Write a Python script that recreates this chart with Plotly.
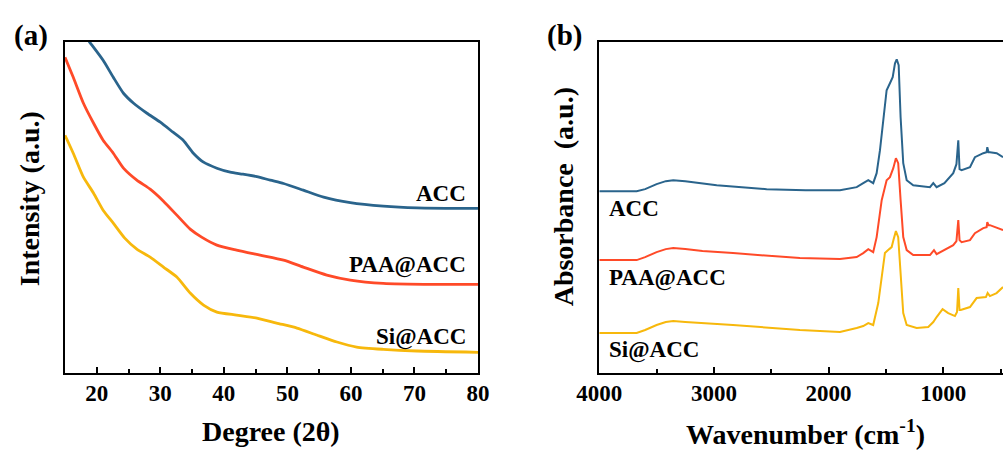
import plotly.graph_objects as go

# ---------------- XRD data (panel a) ----------------
xrd_acc_2theta = [15, 17, 18.9, 21.0, 22.6, 24.2, 25.8, 27.9, 30.0, 32.0, 33.6, 35.2, 36.8, 38.9, 41.0,
                  43.0, 45.2, 47.3, 49.4, 52.5, 55.7, 59.9, 65.1, 70.4, 80]
xrd_acc_int = [365, 347, 331, 313, 296, 280, 270, 260, 251, 241, 233, 220, 211, 205, 201,
               199, 196.5, 193, 189.7, 183, 176, 170.5, 167, 165.3, 164.7]

xrd_paa_2theta = [15, 16.3, 17.9, 19.5, 21.0, 22.6, 24.2, 26.3, 28.4, 30.5, 32.6, 34.7, 36.5, 38.9,
                  42.0, 45.7, 49.4, 52.5, 56.2, 59.9, 65.1, 73.0, 80]
xrd_paa_int = [316, 296, 270, 250, 233, 220, 205, 193, 184, 172, 158, 144, 136, 128,
               123, 118, 113, 106, 98, 93, 89.7, 88.7, 88.7]

xrd_si_2theta = [15, 16.3, 17.9, 19.5, 21.0, 22.6, 24.4, 26.3, 28.4, 30.5, 32.6, 34.7, 36.8, 38.9,
                 42.0, 45.2, 48.3, 51.5, 54.6, 57.8, 60.9, 65.1, 70.4, 80]
xrd_si_int = [238, 220, 196, 180, 163, 150, 135, 124, 116, 106, 96, 80, 68, 61,
              58, 55, 50, 45, 38, 31, 26, 23.7, 22, 20.7]

# ---------------- FTIR data (panel b) ----------------
ftir_acc_wn = [4000, 3800, 3674, 3600, 3500, 3420, 3355, 3250, 3100, 2976, 2540, 2200, 1901, 1755, 1698,
               1654, 1611, 1581, 1552, 1523, 1494, 1465, 1441, 1421, 1406, 1389, 1372, 1349, 1319, 1262,
               1116, 1087, 1058, 990, 913, 885, 869, 858, 840, 767, 724, 651, 622, 616, 605, 593, 534, 479]
ftir_acc_abs = [182, 182, 182, 184, 189, 192, 193, 192, 190, 188, 184, 183, 183, 186, 190,
                193, 190, 200, 223, 256, 283, 290, 296, 310, 314, 308, 256, 210, 193, 188,
                186, 190, 186, 190, 200, 209, 233, 204, 203, 206, 216, 220, 221, 226, 221, 221, 220, 216]

ftir_paa_wn = [4000, 3800, 3674, 3600, 3500, 3420, 3355, 3250, 3100, 2834, 2250, 1901, 1755, 1698,
               1654, 1611, 1581, 1537, 1494, 1465, 1436, 1413, 1393, 1372, 1349, 1319, 1262,
               1116, 1081, 1058, 913, 885, 869, 858, 840, 767, 724, 651, 622, 616, 605, 593, 534, 479]
ftir_paa_abs = [113, 113, 113, 116, 121, 124, 125, 124, 122, 120, 115, 114, 116, 120,
                124, 121, 136, 173, 193, 196, 205, 215, 210, 173, 136, 123, 118,
                118, 123, 119, 128, 132, 153, 133, 131, 133, 140, 145, 146, 151, 148, 148, 145, 143]

ftir_si_wn = [4000, 3800, 3674, 3600, 3500, 3420, 3355, 3250, 3100, 2834, 2250, 1901, 1755, 1698,
              1654, 1611, 1567, 1537, 1509, 1471, 1450, 1430, 1413, 1393, 1372, 1349, 1319, 1232,
              1131, 1087, 1058, 1006, 957, 898, 880, 869, 858, 848, 767, 709, 628, 613, 593, 535, 479]
ftir_si_abs = [40, 40, 40, 43, 48, 51, 52, 51, 50, 48, 43, 41, 45, 47,
               50, 48, 70, 96, 120, 124, 126, 135, 142, 136, 96, 60, 48, 45,
               46, 51, 56, 64, 60, 57, 61, 85, 63, 63, 66, 75, 76, 80, 77, 80, 86]

series_names = ["ACC", "PAA@ACC", "Si@ACC"]
colors = ["#2a648c", "#ff4a28", "#f7b80c"]

FONT = "Liberation Serif, Times New Roman, serif"

fig = go.Figure()
for xs, ys, name, c in zip([xrd_acc_2theta, xrd_paa_2theta, xrd_si_2theta],
                           [xrd_acc_int, xrd_paa_int, xrd_si_int], series_names, colors):
    fig.add_trace(go.Scatter(x=xs, y=ys, mode="lines", name=name,
                             line=dict(color=c, width=2.8, shape="spline", smoothing=0.6),
                             xaxis="x", yaxis="y"))
for xs, ys, name, c in zip([ftir_acc_wn, ftir_paa_wn, ftir_si_wn],
                           [ftir_acc_abs, ftir_paa_abs, ftir_si_abs], series_names, colors):
    fig.add_trace(go.Scatter(x=xs, y=ys, mode="lines", name=name,
                             line=dict(color=c, width=2), xaxis="x2", yaxis="y2"))

axis_common = dict(showline=True, linecolor="black", linewidth=2, showgrid=False, zeroline=False,
                   ticks="inside", ticklen=6, tickwidth=2, tickcolor="black", automargin=False,
                   tickfont=dict(family=FONT, size=23, color="black", weight="bold"))
yaxis_common = dict(showline=True, linecolor="black", linewidth=2, showticklabels=False, ticks="",
                    showgrid=False, zeroline=False, automargin=False)

fig.update_layout(
    template="none",
    width=1003, height=453, autosize=False,
    margin=dict(l=65, r=0, t=42, b=80, pad=0, autoexpand=False),
    paper_bgcolor="white", plot_bgcolor="white",
    showlegend=False,
    font=dict(family=FONT, color="black", weight="bold"),
    xaxis=dict(domain=[0, 0.4403], range=[15, 80], dtick=10, tick0=0, mirror=True,
               minor=dict(dtick=5, tick0=0, ticks="inside", ticklen=4, tickwidth=1.5, tickcolor="black"),
               ticklabelstandoff=-2, anchor="y", **axis_common),
    yaxis=dict(domain=[0, 1], range=[0, 331.3], mirror=True, anchor="x", **yaxis_common),
    xaxis2=dict(domain=[0.5696, 1], range=[4000, 479], dtick=1000, tick0=0, mirror=True,
                minor=dict(dtick=500, tick0=0, ticks="inside", ticklen=4, tickwidth=1.5, tickcolor="black"),
                ticklabelstandoff=-2, anchor="y2", **axis_common),
    yaxis2=dict(domain=[0, 1], range=[0, 331.3], mirror=False, anchor="x2", **yaxis_common),
)

lab_font = dict(family=FONT, size=23, color="black", weight="bold")
title_font = dict(family=FONT, size=28, color="black", weight="bold")
letter_font = dict(family=FONT, size=29, color="black", weight="bold")

ann = []
for text, yv in zip(series_names, [180, 108, 36]):
    ann.append(dict(x=78.4, y=yv, xref="x", yref="y", text=text, showarrow=False,
                    xanchor="right", yanchor="middle", font=lab_font))
for text, yv in zip(series_names, [165, 95, 23]):
    ann.append(dict(x=3933, y=yv, xref="x2", yref="y2", text=text, showarrow=False,
                    xanchor="left", yanchor="middle", font=lab_font))
ann.append(dict(x=-0.036, y=1.02, xref="paper", yref="paper", text="(a)", showarrow=False,
                xanchor="center", yanchor="middle", font=letter_font))
ann.append(dict(x=0.532, y=1.02, xref="paper", yref="paper", text="(b)", showarrow=False,
                xanchor="center", yanchor="middle", font=letter_font))
ann.append(dict(x=0.2196, y=-0.178, xref="paper", yref="paper", text="Degree (2θ)", showarrow=False,
                xanchor="center", yanchor="middle", font=title_font))
ann.append(dict(x=0.789, y=-0.181, xref="paper", yref="paper", text="Wavenumber (cm<sup>-1</sup>)",
                showarrow=False, xanchor="center", yanchor="middle", font=title_font))
ann.append(dict(x=-0.0384, y=0.528, xref="paper", yref="paper", text="Intensity (a.u.)", showarrow=False,
                textangle=-90, xanchor="center", yanchor="middle", font=title_font))
ann.append(dict(x=0.531, y=0.531, xref="paper", yref="paper", text="Absorbance  (a.u.)", showarrow=False,
                textangle=-90, xanchor="center", yanchor="middle", font=title_font))
fig.update_layout(annotations=ann)

fig.write_html("out.html",
               config={"displayModeBar": False, "responsive": False},
               post_script="document.documentElement.style.overflow='hidden';"
                           "document.body.style.margin='0px';document.body.style.padding='0px';"
                           "document.body.style.overflow='hidden';")
